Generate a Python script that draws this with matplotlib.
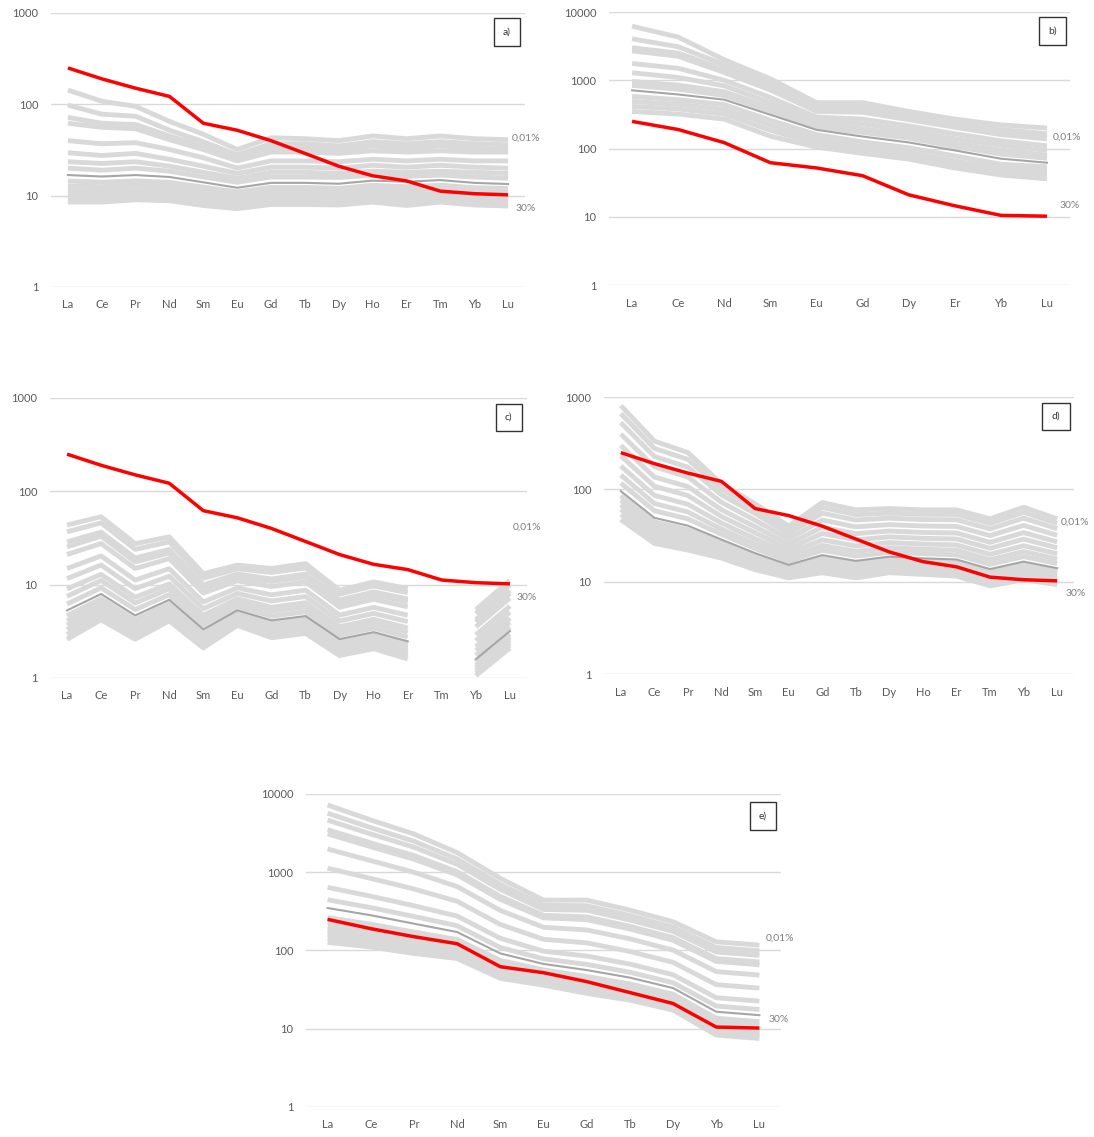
import numpy as np
import matplotlib
matplotlib.use("Agg")
import matplotlib.pyplot as plt

plt.rcParams["font.family"] = ["Lato", "DejaVu Sans"]

nan = np.nan

# Element sequences for each panel
ree_full = ["La", "Ce", "Pr", "Nd", "Sm", "Eu", "Gd", "Tb", "Dy", "Ho", "Er", "Tm", "Yb", "Lu"]
ree_b = ["La", "Ce", "Nd", "Sm", "Eu", "Gd", "Dy", "Er", "Yb", "Lu"]
ree_e = ["La", "Ce", "Pr", "Nd", "Sm", "Eu", "Gd", "Tb", "Dy", "Yb", "Lu"]

# Reference rock (red curve)
rock_full = [250, 190, 150, 122, 62, 52, 40, 29, 21, 16.5, 14.5, 11.2, 10.5, 10.2]
rock_b = [250, 190, 122, 62, 52, 40, 21, 14.5, 10.5, 10.2]
rock_e = [250, 190, 150, 122, 62, 52, 40, 29, 21, 10.5, 10.2]

# Melt curves, from 0.01 % (top) to 30 % (bottom) melting
melts_a = [
    [143, 108, 95, 65, 47, 32, 43, 42, 40, 45, 42, 45, 42, 41],
    [98, 78, 74, 52, 39, 28, 37, 37, 35, 39, 37, 39, 37, 36],
    [72, 62, 60, 45, 35, 26, 33, 33, 32, 35, 33, 35, 33, 32],
    [62, 56, 54, 41, 32, 24, 30, 30, 29, 31, 30, 31, 30, 30],
    [40, 37, 38, 32, 26, 20, 24, 24, 23.5, 25, 24, 25, 24, 24],
    [29.5, 27.5, 29, 25, 21, 17.5, 20.5, 20.5, 20, 21.5, 20.5, 21.5, 20.5, 20],
    [23.5, 22.5, 23.5, 21, 18, 15.5, 18, 18, 17.5, 18.5, 18, 18.5, 18, 17.5],
    [20, 19, 20, 18.5, 16, 14, 16, 16, 15.8, 16.8, 16.2, 16.8, 16, 15.5],
    [16.8, 16.2, 16.8, 16, 14, 12.2, 13.8, 13.8, 13.5, 14.6, 14.2, 14.8, 13.8, 13.4],
    [14.5, 14, 14.5, 14, 12.4, 11, 12.3, 12.3, 12, 13, 12.5, 13, 12.2, 12],
    [12.8, 12.5, 13, 12.6, 11.2, 10, 11.2, 11.2, 11, 11.8, 11.3, 11.8, 11, 10.8],
    [11.4, 11.2, 11.6, 11.3, 10.1, 9.1, 10.1, 10.1, 9.9, 10.7, 10.2, 10.7, 10, 9.8],
    [10.2, 10, 10.5, 10.2, 9.1, 8.3, 9.2, 9.2, 9, 9.7, 9.2, 9.7, 9.1, 8.9],
    [9.2, 9.1, 9.6, 9.4, 8.4, 7.7, 8.5, 8.5, 8.3, 9, 8.4, 9, 8.4, 8.2],
    [8.5, 8.5, 9, 8.8, 7.8, 7.2, 8, 8, 7.9, 8.5, 7.8, 8.5, 7.9, 7.7],
]
dark_a = 8

melts_b = [
    [6200, 4300, 2000, 1050, 470, 470, 350, 270, 222, 200],
    [4050, 3100, 1700, 900, 410, 405, 305, 235, 190, 165],
    [3000, 2500, 1450, 800, 380, 370, 285, 220, 172, 150],
    [2700, 2250, 1300, 720, 350, 340, 265, 205, 160, 138],
    [1760, 1500, 1000, 560, 290, 270, 215, 165, 130, 110],
    [1290, 1100, 830, 470, 255, 230, 185, 140, 112, 94],
    [960, 850, 680, 400, 225, 195, 160, 120, 95, 80],
    [840, 740, 600, 355, 208, 172, 142, 107, 83, 72],
    [713, 620, 520, 313, 188, 150, 123, 94, 71, 62],
    [580, 520, 440, 260, 160, 125, 103, 78, 59, 54],
    [490, 445, 375, 220, 137, 107, 88, 66, 51, 48],
    [415, 380, 320, 185, 120, 95, 78, 58, 45, 42],
    [350, 320, 270, 152, 105, 85, 70, 52, 41, 36],
]
dark_b = 8

melts_c = [
    [43.5, 53.4, 27.5, 32.5, 13.1, 16.2, 14.9, 16.8, 8.7, 10.7, 9.1, nan, 5.4, 11.1],
    [36.8, 45.9, 23.9, 28.7, 11.7, 14.8, 13.5, 15.1, 7.91, 9.68, 8.2, nan, 4.9, 10.0],
    [28.7, 36.5, 19.3, 23.8, 9.95, 13.0, 11.5, 13.0, 6.84, 8.36, 7.01, nan, 4.23, 8.65],
    [25.4, 33.0, 17.5, 21.9, 9.25, 12.2, 10.8, 12.1, 6.41, 7.82, 6.55, nan, 3.96, 8.09],
    [21.0, 27.6, 14.9, 19.0, 8.13, 11.0, 9.55, 10.7, 5.73, 6.97, 5.79, nan, 3.53, 7.19],
    [14.9, 20.3, 11.2, 14.8, 6.53, 9.23, 7.78, 8.73, 4.72, 5.71, 4.7, nan, 2.9, 5.89],
    [11.6, 16.2, 9.06, 12.3, 5.53, 8.05, 6.68, 7.46, 4.08, 4.92, 4.02, nan, 2.51, 5.07],
    [9.0, 12.9, 7.33, 10.2, 4.7, 7.05, 5.73, 6.4, 3.54, 4.25, 3.44, nan, 2.17, 4.37],
    [7.5, 11.1, 6.36, 9.02, 4.21, 6.44, 5.18, 5.77, 3.21, 3.85, 3.1, nan, 1.97, 3.95],
    [6.2, 9.25, 5.4, 7.8, 3.7, 5.81, 4.59, 5.12, 2.87, 3.43, 2.74, nan, 1.75, 3.52],
    [5.3, 7.94, 4.68, 6.89, 3.32, 5.31, 4.14, 4.61, 2.61, 3.1, 2.47, nan, 1.59, 3.18],
    [4.66, 7.08, 4.21, 6.28, 3.05, 4.97, 3.84, 4.27, 2.42, 2.88, 2.28, nan, 1.48, 2.95],
    [4.1, 6.32, 3.78, 5.73, 2.81, 4.65, 3.56, 3.95, 2.25, 2.68, 2.11, nan, 1.37, 2.74],
    [3.68, 5.71, 3.44, 5.27, 2.61, 4.38, 3.32, 3.69, 2.11, 2.5, 1.97, nan, 1.29, 2.56],
    [3.3, 5.15, 3.13, 4.85, 2.43, 4.13, 3.1, 3.44, 1.98, 2.34, 1.84, nan, 1.21, 2.4],
    [2.93, 4.65, 2.85, 4.46, 2.26, 3.89, 2.89, 3.21, 1.86, 2.2, 1.72, nan, 1.13, 2.25],
    [2.6, 4.2, 2.6, 4.1, 2.1, 3.66, 2.7, 3.0, 1.74, 2.06, 1.6, nan, 1.06, 2.1],
]
dark_c = 10

melts_d = [
    [809, 333, 250, 115, 70, 40, 72, 60, 62, 60, 60, 48, 64, 48],
    [663, 278, 211, 101, 62.4, 36.6, 63.7, 53.2, 55.3, 53.6, 53.5, 42.7, 56.4, 42.8],
    [528, 227, 174, 87.1, 54.7, 33.0, 55.3, 46.5, 48.8, 47.1, 46.8, 37.3, 48.8, 37.5],
    [397, 176, 136, 72.4, 46.3, 29.0, 46.5, 39.3, 41.5, 40.1, 39.7, 31.6, 40.7, 31.8],
    [299, 136, 107, 60.1, 39.4, 25.5, 39.0, 33.1, 35.4, 34.1, 33.7, 26.7, 34.0, 27.0],
    [231, 108, 85.7, 50.8, 33.9, 22.6, 33.3, 28.4, 30.6, 29.5, 29.0, 23.0, 28.9, 23.3],
    [179, 86.1, 68.9, 43.1, 29.2, 20.2, 28.4, 24.4, 26.5, 25.6, 25.0, 19.8, 24.5, 20.1],
    [143, 70.3, 56.8, 37.1, 25.6, 18.2, 24.7, 21.3, 23.3, 22.5, 21.9, 17.3, 21.2, 17.6],
    [117, 58.7, 47.9, 32.6, 22.9, 16.6, 21.9, 18.9, 20.8, 20.1, 19.5, 15.4, 18.7, 15.7],
    [95.7, 49.2, 40.4, 28.6, 20.4, 15.2, 19.4, 16.8, 18.7, 17.9, 17.4, 13.7, 16.5, 14.0],
    [85.4, 44.4, 36.7, 26.6, 19.1, 14.4, 18.05, 15.7, 17.5, 16.8, 16.3, 12.8, 15.4, 13.1],
    [76.2, 40.1, 33.3, 24.7, 17.9, 13.7, 16.8, 14.7, 16.4, 15.8, 15.2, 12.0, 14.3, 12.3],
    [68, 36.2, 30.2, 22.9, 16.7, 13.0, 15.7, 13.7, 15.4, 14.8, 14.3, 11.2, 13.3, 11.5],
    [60.7, 32.7, 27.4, 21.3, 15.6, 12.3, 14.6, 12.8, 14.5, 13.9, 13.4, 10.4, 12.4, 10.8],
    [53.4, 29.2, 24.6, 19.6, 14.5, 11.6, 13.5, 11.9, 13.5, 12.9, 12.4, 9.7, 11.4, 10.0],
    [47, 26, 22, 18, 13.5, 11, 12.5, 11, 12.5, 12, 11.5, 9, 10.5, 9.3],
]
dark_d = 9

melts_e = [
    [7230, 4650, 3075, 1780, 834, 440, 440, 328, 233, 129, 117],
    [5675, 3715, 2489, 1476, 698, 379, 373, 280, 199, 109, 99.1],
    [4634, 3083, 2089, 1262, 603, 334, 326, 245, 175, 95.5, 86.5],
    [3491, 2371, 1633, 1016, 491, 281, 269, 204, 146, 78.7, 71.3],
    [3090, 2118, 1469, 925, 450, 261, 248, 188, 135, 72.6, 65.6],
    [1982, 1406, 998, 656, 325, 198, 183, 141, 101, 53.7, 48.5],
    [1127, 834, 611, 425, 215, 139, 125, 97, 70.5, 36.6, 33],
    [640, 494, 373, 275, 143, 97.9, 84.9, 67, 49, 24.9, 22.5],
    [445, 353, 272, 207, 109, 78.2, 66.4, 52.7, 38.7, 19.5, 17.6],
    [349, 282, 220, 172, 91.6, 67.3, 56.2, 45, 33.1, 16.5, 14.9],
    [263, 217, 172, 138, 74.6, 56.5, 46.5, 37.4, 27.6, 13.6, 12.3],
    [228, 190, 152, 124, 67.3, 51.7, 42.2, 34.0, 25.2, 12.3, 11.1],
    [198, 167, 135, 111, 60.8, 47.4, 38.3, 31, 23, 11.2, 10.1],
    [179, 152, 124, 103, 56.5, 44.5, 35.8, 29.0, 21.6, 10.5, 9.45],
    [162, 139, 113, 95.3, 52.5, 41.8, 33.4, 27.2, 20.2, 9.8, 8.85],
    [143, 124, 102, 86.8, 48.1, 38.8, 30.7, 25.1, 18.7, 9.0, 8.15],
    [127, 111, 91.5, 79, 44, 36, 28.3, 23.2, 17.3, 8.3, 7.5],
]
dark_e = 9

panel_tags = ["a)", "b)", "c)", "d)", "e)"]
low_tag, high_tag = "0,01%", "30%"

GRAY = "#d9d9d9"
DARK = "#a6a6a6"
RED = "#ff0000"
TXT = "#595959"

fig = plt.figure(figsize=(10.94, 11.37), dpi=100)

# axes rectangles in figure fractions
rects = [
    [0.0466, 0.7476, 0.4333, 0.2410],
    [0.5567, 0.7493, 0.4214, 0.2401],
    [0.0457, 0.4037, 0.4360, 0.2463],
    [0.5521, 0.4072, 0.4296, 0.2436],
    [0.2797, 0.0264, 0.4342, 0.2753],
]

panels = [
    (ree_full, melts_a, dark_a, rock_full, 1000, (13.12, 43), (13.22, 7.3)),
    (ree_b, melts_b, dark_b, rock_b, 10000, (9.13, 147), (9.28, 14.4)),
    (ree_full, melts_c, dark_c, rock_full, 1000, (13.08, 41.5), (13.2, 7.2)),
    (ree_full, melts_d, dark_d, rock_full, 1000, (13.1, 44.3), (13.25, 7.4)),
    (ree_e, melts_e, dark_e, rock_e, 10000, (10.14, 144), (10.2, 13.3)),
]

for rect, tag, (elems, melts, dark, rock, ytop, top_pos, bot_pos) in zip(rects, panel_tags, panels):
    ax = fig.add_axes(rect)
    x = np.arange(len(elems))
    for i, curve in enumerate(melts):
        if i == dark:
            continue
        ax.plot(x, curve, color=GRAY, lw=3.5, solid_joinstyle="round",
                solid_capstyle="butt", zorder=2)
    ax.plot(x, melts[dark], color=DARK, lw=1.5, solid_joinstyle="round", zorder=3)
    ax.plot(x, rock, color=RED, lw=2.5, solid_joinstyle="round",
            solid_capstyle="butt", zorder=4)

    ax.set_yscale("log")
    ax.set_ylim(1, ytop)
    ax.set_xlim(-0.5, len(elems) - 0.5)
    decades = [10 ** k for k in range(int(np.log10(ytop)) + 1)]
    ax.set_yticks(decades)
    ax.set_yticklabels([str(d) for d in decades])
    ax.yaxis.set_minor_locator(matplotlib.ticker.NullLocator())
    ax.set_xticks(x)
    ax.set_xticklabels(elems)
    ax.tick_params(axis="both", length=0, labelsize=8, labelcolor=TXT)
    ax.tick_params(axis="y", pad=9)
    ax.tick_params(axis="x", pad=9)
    ax.grid(axis="y", color="#d9d9d9", lw=1.0, zorder=0)
    ax.set_axisbelow(True)
    for s in ax.spines.values():
        s.set_visible(False)

    ax.text(top_pos[0], top_pos[1], low_tag, fontsize=7.5, color="#7f7f7f",
            ha="left", va="center", clip_on=False)
    ax.text(bot_pos[0], bot_pos[1], high_tag, fontsize=7.5, color="#7f7f7f",
            ha="left", va="center", clip_on=False)
    ax.text(0.962, 0.93, tag, transform=ax.transAxes, fontsize=7.5, color="#333333",
            ha="center", va="center",
            bbox=dict(boxstyle="square,pad=0.9", fc="white", ec="#333333", lw=1.0))

fig.savefig("out.png", dpi=100, facecolor="white")
